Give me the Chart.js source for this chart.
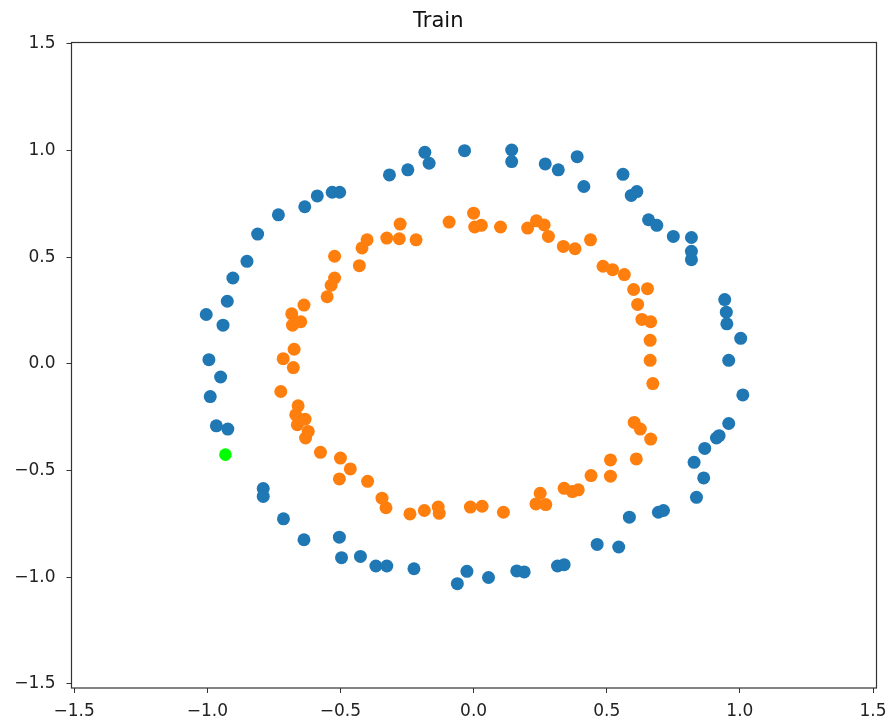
<!DOCTYPE html>
<html>
<head>
<meta charset="utf-8">
<script src="https://cdn.jsdelivr.net/npm/chart.js@4/dist/chart.umd.min.js"></script>
<style>
  html, body { margin: 0; padding: 0; background: #fff; }
  #wrap { width: 888px; height: 726px; }
</style>
</head>
<body>
<div id="wrap"><canvas id="trainChart" width="888" height="726"></canvas></div>
<script>
// outer ring (class 0)
const blueX = [-0.183, -0.167, -0.034, -0.247, -0.316, -0.503, -0.531, -0.587, -0.634, -0.733, -0.811, -0.851, -0.904, -0.925, -1.004, -0.941, -0.994,
  0.143, 0.143, 0.269, 0.318, 0.389, 0.414, 0.561, 0.592, 0.613, 0.657, 0.688, 0.750, 0.818, 0.818, 0.818, 0.943, 0.949, 0.951, 1.003, 0.958,
  -0.950, -0.989, -0.966, -0.923, -0.790, -0.790, -0.714, -0.637, -0.504, -0.496, -0.425, -0.367, -0.326, -0.224, -0.025, -0.061,
  1.011, 0.958, 0.922, 0.912, 0.868, 0.828, 0.864, 0.837, 0.694, 0.713, 0.585, 0.464, 0.545, 0.315, 0.340, 0.162, 0.190, 0.056];
const blueY = [0.992, 0.941, 1.000, 0.910, 0.886, 0.805, 0.805, 0.788, 0.737, 0.699, 0.609, 0.481, 0.403, 0.294, 0.232, 0.182, 0.020,
  1.003, 0.949, 0.938, 0.910, 0.972, 0.832, 0.889, 0.790, 0.808, 0.676, 0.650, 0.598, 0.593, 0.528, 0.489, 0.302, 0.243, 0.188, 0.120, 0.017,
  -0.061, -0.153, -0.290, -0.305, -0.584, -0.621, -0.726, -0.824, -0.812, -0.908, -0.902, -0.947, -0.947, -0.960, -0.972, -1.030,
  -0.145, -0.279, -0.336, -0.347, -0.396, -0.461, -0.534, -0.625, -0.695, -0.687, -0.718, -0.846, -0.858, -0.947, -0.941, -0.970, -0.975, -1.001];

// inner ring (class 1)
const orangeX = [0.000, 0.004, -0.092, -0.276, -0.326, -0.279, -0.216, -0.400, -0.419, -0.522, -0.429, -0.522, -0.535, -0.550, -0.637, -0.683, -0.649, -0.680, -0.674, -0.715, -0.677,
  0.029, 0.101, 0.203, 0.236, 0.265, 0.281, 0.337, 0.381, 0.439, 0.486, 0.522, 0.566, 0.601, 0.653, 0.616, 0.632, 0.665, 0.663, 0.663,
  -0.724, -0.659, -0.668, -0.633, -0.662, -0.621, -0.631, -0.575, -0.500, -0.463, -0.504, -0.398, -0.344, -0.329, -0.239, -0.185, -0.133, -0.129, -0.012,
  0.673, 0.603, 0.626, 0.665, 0.514, 0.611, 0.514, 0.441, 0.340, 0.371, 0.393, 0.250, 0.234, 0.271, 0.032, 0.112];
const orangeY = [0.707, 0.642, 0.665, 0.656, 0.590, 0.587, 0.582, 0.582, 0.544, 0.505, 0.461, 0.403, 0.369, 0.315, 0.276, 0.235, 0.198, 0.182, 0.069, 0.025, -0.017,
  0.650, 0.642, 0.637, 0.671, 0.652, 0.598, 0.551, 0.540, 0.582, 0.458, 0.442, 0.419, 0.349, 0.353, 0.279, 0.209, 0.198, 0.111, 0.017,
  -0.129, -0.196, -0.238, -0.259, -0.285, -0.316, -0.347, -0.414, -0.441, -0.492, -0.539, -0.550, -0.629, -0.674, -0.703, -0.687, -0.671, -0.700, -0.671,
  -0.092, -0.274, -0.305, -0.352, -0.450, -0.445, -0.526, -0.523, -0.583, -0.598, -0.590, -0.606, -0.656, -0.659, -0.667, -0.695];

// single highlighted point
const greenX = [-0.932];
const greenY = [-0.425];

// tick positions on both axes
const xTicks = [-1.5, -1.0, -0.5, 0.0, 0.5, 1.0, 1.5];
const yTicks = [-1.5, -1.0, -0.5, 0.0, 0.5, 1.0, 1.5];

const toPoints = (xs, ys) => xs.map((x, i) => ({ x: x, y: ys[i] }));
const fmt = (v) => v.toFixed(1).replace('-', '\u2212');

// matplotlib style box round the plot area
const frame = {
  id: 'frame',
  afterDatasetsDraw(chart) {
    const a = chart.chartArea;
    const ctx = chart.ctx;
    ctx.save();
    ctx.strokeStyle = '#333';
    ctx.lineWidth = 1.2;
    ctx.strokeRect(a.left, a.top, a.right - a.left, a.bottom - a.top);
    ctx.restore();
  }
};

const tickFont = { family: 'DejaVu Sans', size: 17 };

new Chart(document.getElementById('trainChart'), {
  type: 'scatter',
  data: {
    datasets: [
      { data: toPoints(blueX, blueY), backgroundColor: '#1f77b4', pointRadius: 6.5, borderWidth: 0 },
      { data: toPoints(orangeX, orangeY), backgroundColor: '#ff7f0e', pointRadius: 6.5, borderWidth: 0 },
      { data: toPoints(greenX, greenY), backgroundColor: '#00ff00', pointRadius: 6.3, borderWidth: 0 }
    ]
  },
  options: {
    responsive: false,
    animation: false,
    layout: { padding: { left: 0, right: 11.5, top: 0, bottom: 0 } },
    plugins: {
      legend: { display: false },
      tooltip: { enabled: false },
      title: {
        display: true,
        text: 'Train',
        color: '#111',
        font: { family: 'DejaVu Sans', size: 21, weight: 'normal', lineHeight: 1.2 },
        padding: { top: 9, bottom: 8.3 }
      }
    },
    scales: {
      x: {
        type: 'linear',
        min: -1.51,
        max: 1.513,
        grid: { display: true, drawOnChartArea: false, drawTicks: true, tickLength: 5, color: '#333' },
        border: { display: false },
        ticks: { color: '#222', font: tickFont, padding: 8, maxRotation: 0, autoSkip: false, callback: fmt },
        afterBuildTicks(scale) { scale.ticks = xTicks.map(v => ({ value: v })); },
        afterFit(scale) { scale.height = 38; scale.paddingLeft = 0; scale.paddingRight = 0; }
      },
      y: {
        type: 'linear',
        min: -1.519,
        max: 1.507,
        grid: { display: true, drawOnChartArea: false, drawTicks: true, tickLength: 5, color: '#333' },
        border: { display: false },
        ticks: { color: '#222', font: tickFont, padding: 11, autoSkip: false, callback: fmt },
        afterBuildTicks(scale) { scale.ticks = yTicks.map(v => ({ value: v })); },
        afterFit(scale) { scale.width = 71.5; scale.paddingTop = 0; scale.paddingBottom = 0; }
      }
    }
  },
  plugins: [frame]
});
</script>
</body>
</html>
